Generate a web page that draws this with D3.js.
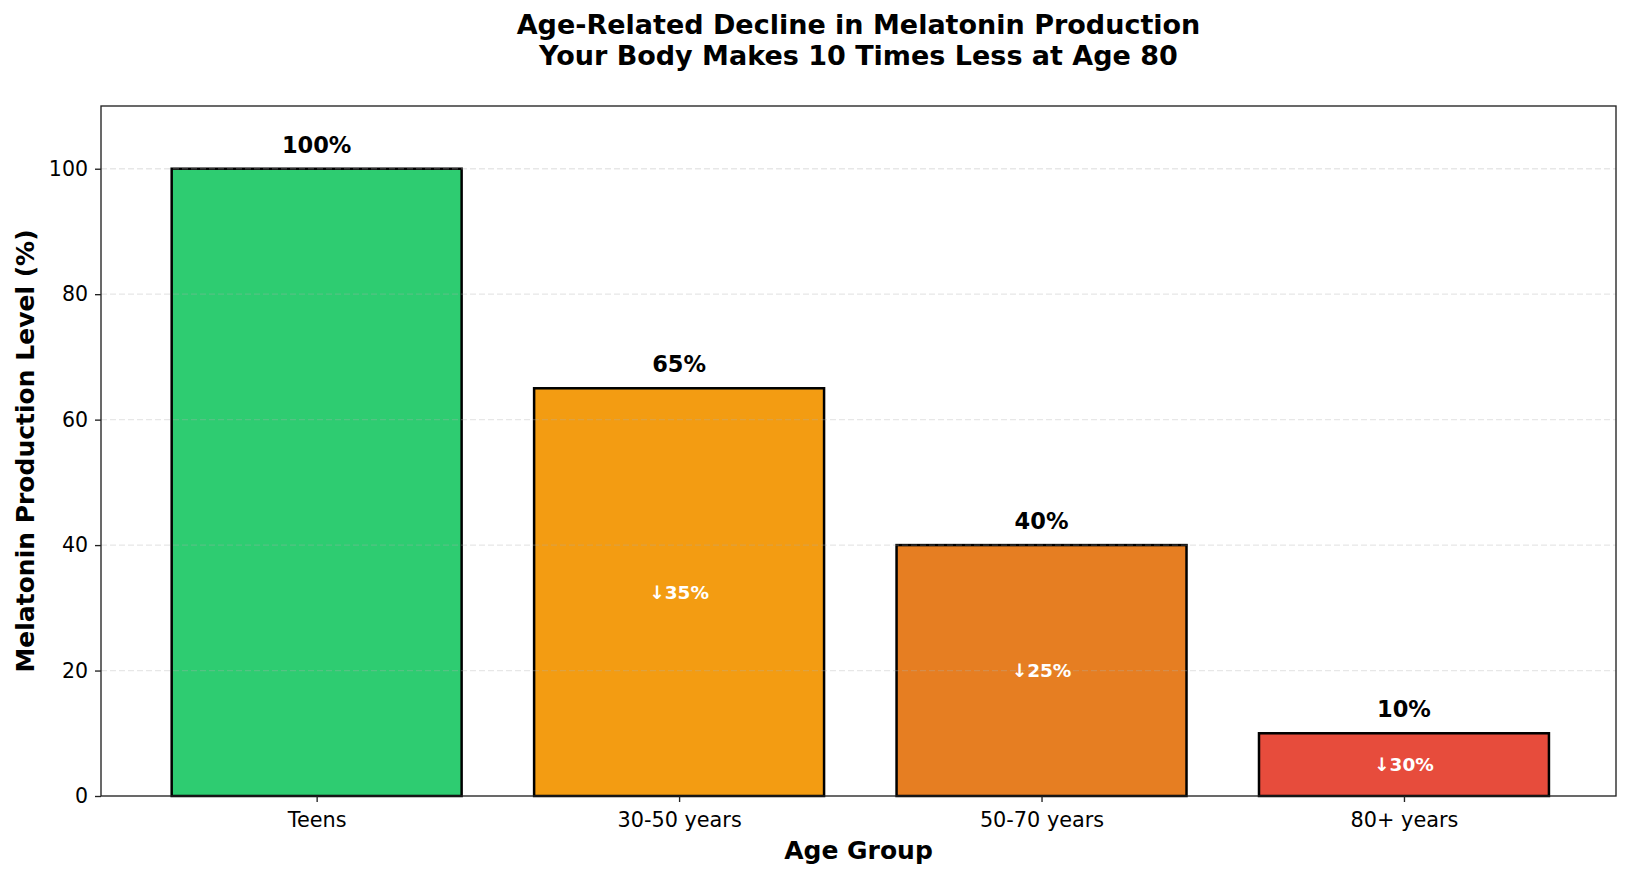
<!DOCTYPE html>
<html>
<head>
<meta charset="utf-8">
<script src="https://cdn.jsdelivr.net/npm/d3@7"></script>
<style>
  body { margin: 0; background: #fff; }
  svg text { font-family: "DejaVu Sans", sans-serif; }
</style>
</head>
<body>
<div id="chart"></div>
<script>
// Chart data
const categories = ["Teens", "30-50 years", "50-70 years", "80+ years"];
const levels = [100, 65, 40, 10];
const colors = ["#2ecc71", "#f39c12", "#e67e22", "#e74c3c"];
const drops = [null, "↓35%", "↓25%", "↓30%"];
const yTicks = [0, 20, 40, 60, 80, 100];

const data = categories.map((c, i) => ({cat: c, i: i, value: levels[i], color: colors[i], drop: drops[i]}));

const width = 1632, height = 878;
const margin = {left: 101, right: 16, top: 106, bottom: 82};

const svg = d3.select("#chart").append("svg")
    .attr("width", width)
    .attr("height", height);

// Scales (bar width 0.8, 5% margins like matplotlib)
const xScale = d3.scaleLinear()
    .domain([-0.595, 3.585])
    .range([margin.left, width - margin.right]);

const yScale = d3.scaleLinear()
    .domain([0, 110])
    .range([height - margin.bottom, margin.top]);

const barW = xScale(0.8) - xScale(0);

// Bars
svg.selectAll("rect.bar")
    .data(data)
    .enter().append("rect")
    .attr("class", "bar")
    .attr("x", d => xScale(d.i) - barW / 2)
    .attr("y", d => yScale(d.value))
    .attr("width", barW)
    .attr("height", d => yScale(0) - yScale(d.value))
    .style("fill", d => d.color)
    .style("stroke", "#000")
    .style("stroke-width", 2.5);

// Grid (drawn over bars, faint)
svg.selectAll("line.grid")
    .data(yTicks.filter(t => t > 0))
    .enter().append("line")
    .attr("x1", margin.left)
    .attr("x2", width - margin.right)
    .attr("y1", d => yScale(d))
    .attr("y2", d => yScale(d))
    .style("stroke", "#b0b0b0")
    .style("stroke-opacity", 0.3)
    .style("stroke-width", 1.3)
    .style("stroke-dasharray", "6,3");

// Value labels
svg.selectAll("text.val")
    .data(data)
    .enter().append("text")
    .attr("x", d => xScale(d.i))
    .attr("y", d => yScale(d.value) - 16)
    .attr("text-anchor", "middle")
    .style("font-size", "22.5px")
    .style("font-weight", "bold")
    .text(d => d.value + "%");

// Drop labels inside bars
svg.selectAll("text.drop")
    .data(data.filter(d => d.drop !== null))
    .enter().append("text")
    .attr("x", d => xScale(d.i))
    .attr("y", d => yScale(d.value / 2))
    .attr("dy", "0.36em")
    .attr("text-anchor", "middle")
    .style("font-size", "18.5px")
    .style("font-weight", "bold")
    .style("fill", "#fff")
    .text(d => d.drop);

// Axes frame
svg.append("rect")
    .attr("x", margin.left)
    .attr("y", margin.top)
    .attr("width", width - margin.left - margin.right)
    .attr("height", height - margin.top - margin.bottom)
    .style("fill", "none")
    .style("stroke", "#222")
    .style("stroke-width", 1.35);

// Y axis
const yAxis = svg.append("g")
    .attr("transform", `translate(${margin.left},0)`)
    .call(d3.axisLeft(yScale).tickValues(yTicks).tickSize(6).tickPadding(7));
yAxis.select(".domain").remove();
yAxis.selectAll("line").style("stroke", "#222").style("stroke-width", 1.35);
yAxis.selectAll("text")
    .style("font-size", "20.5px")
    .style("font-family", "DejaVu Sans, sans-serif")
    .style("fill", "#000");

// X axis
const xAxis = svg.append("g")
    .attr("transform", `translate(0,${yScale(0)})`)
    .call(d3.axisBottom(xScale).tickValues([0, 1, 2, 3])
        .tickFormat(i => categories[i]).tickSize(6).tickPadding(10));
xAxis.select(".domain").remove();
xAxis.selectAll("line").style("stroke", "#222").style("stroke-width", 1.35);
xAxis.selectAll("text")
    .style("font-size", "20.8px")
    .style("font-family", "DejaVu Sans, sans-serif")
    .style("fill", "#000");

// Axis titles
svg.append("text")
    .attr("x", (margin.left + width - margin.right) / 2)
    .attr("y", 859)
    .attr("text-anchor", "middle")
    .style("font-size", "25px")
    .style("font-weight", "bold")
    .text("Age Group");

svg.append("text")
    .attr("transform", `translate(34,${(margin.top + height - margin.bottom) / 2}) rotate(-90)`)
    .attr("text-anchor", "middle")
    .style("font-size", "25px")
    .style("font-weight", "bold")
    .text("Melatonin Production Level (%)");

// Title
const cx = (margin.left + width - margin.right) / 2;
const title = svg.append("text")
    .attr("text-anchor", "middle")
    .style("font-size", "27px")
    .style("font-weight", "bold");
title.append("tspan").attr("x", cx).attr("y", 34)
    .text("Age-Related Decline in Melatonin Production");
title.append("tspan").attr("x", cx).attr("y", 65)
    .text("Your Body Makes 10 Times Less at Age 80");
</script>
</body>
</html>
